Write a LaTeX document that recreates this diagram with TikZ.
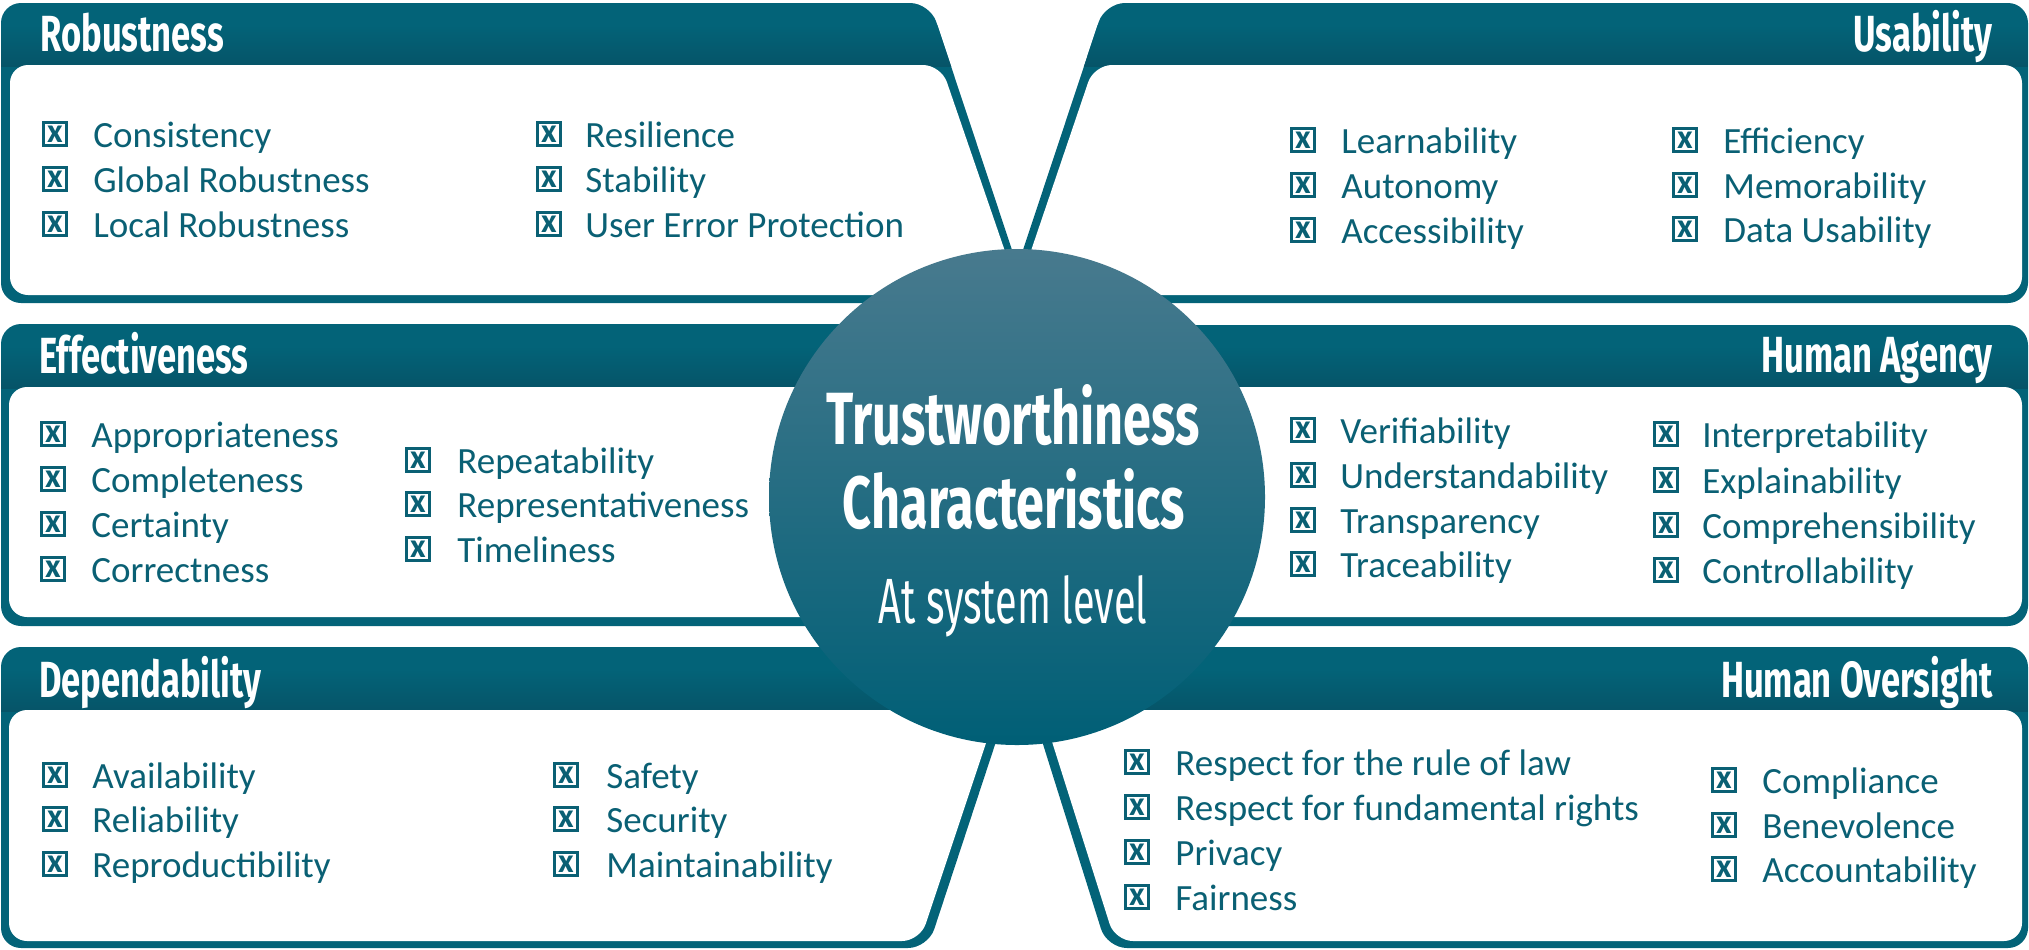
\documentclass[tikz,border=0pt]{standalone}
\usepackage{fontspec}
\setmainfont{Carlito}
\newfontfamily\hdfont[FakeStretch=0.68]{Fira Sans}
\newfontfamily\subfont[FakeStretch=0.62]{Fira Sans}
\newfontfamily\itfont{Carlito}
\definecolor{tealD}{RGB}{3,99,120}
\definecolor{tealDk}{RGB}{6,84,104}
\definecolor{tealT}{RGB}{10,96,116}
\definecolor{cT}{RGB}{72,122,142}
\definecolor{cM}{RGB}{8,103,126}
\definecolor{cB}{RGB}{0,95,118}
\newcommand\itemcol[4]{%
  \foreach \yy/\tx [count=\i] in {#4}{%
    \node[cbx] (#1b\i) at (#2,\yy) {x};
    \node[itm] (#1t\i) at (#3,\yy) {\tx};
  }}
\newcommand\panel[4]{%
  \fill[tealD,rounded corners=10pt] #1;
  \begin{scope}
    \clip[rounded corners=10pt] #1;
    \shade[top color=tealD,bottom color=tealDk] (0,#3) rectangle (2029,#4);
  \end{scope}
  \fill[white,rounded corners=9pt] #2;
}
\begin{document}
\begin{tikzpicture}[x=0.5pt,y=-0.5pt,
  cbx/.style={draw=tealT,line width=1.4pt,minimum width=11.6pt,minimum height=11.6pt,
    inner sep=0pt,anchor=south west,text=tealT,
    font=\itfont\bfseries\fontsize{17}{17}\selectfont},
  itm/.style={anchor=base west,inner sep=0pt,text=tealT,
    font=\itfont\fontsize{18.5}{22}\selectfont},
  hdr/.style={inner sep=0pt,text=white,
    font=\hdfont\bfseries\fontsize{25.4}{30}\selectfont},
  ttl/.style={anchor=base,inner sep=0pt,text=white,
    font=\hdfont\bfseries\fontsize{37}{40}\selectfont},
  sub/.style={anchor=base,inner sep=0pt,text=white,
    font=\subfont\fontsize{32}{36}\selectfont},
  hub/.style={circle,minimum size=248pt,inner sep=0pt,
    top color=cT,middle color=cM,bottom color=cB}
]
\useasboundingbox (0,0) rectangle (2029,949);
\fill[white] (0,0) rectangle (2029,949);

% top-left: Robustness
\panel{(1,3) -- (930,3) -- (1018,268) -- (1018,303) -- (1,303) -- cycle}
      {(10,65) -- (941,65) -- (1020,295) -- (10,295) -- cycle}{25}{66}
% top-right: Usability
\panel{(1105,3) -- (2028,3) -- (2028,303) -- (1017,303) -- (1017,268) -- cycle}
      {(1094,65) -- (2022,65) -- (2022,295) -- (1016,295) -- cycle}{25}{66}
% middle-left: Effectiveness
\panel{(1,324) -- (1020,324) -- (1020,626) -- (1,626) -- cycle}
      {(9,387) -- (1020,387) -- (1020,617) -- (9,617) -- cycle}{346}{388}
% middle-right: Human Agency
\panel{(1014,325) -- (2028,325) -- (2028,626) -- (1014,626) -- cycle}
      {(1014,387) -- (2022,387) -- (2022,617) -- (1014,617) -- cycle}{346}{388}
% bottom-left: Dependability
\panel{(1,647) -- (1020,647) -- (1020,690) -- (1013,690) -- (928,948) -- (1,948) -- cycle}
      {(9,710) -- (997,710) -- (920,941) -- (9,941) -- cycle}{669}{711}
% bottom-right: Human Oversight
\panel{(1000,647) -- (2028,647) -- (2028,948) -- (1107,948) -- (1026,690) -- (1000,690) -- cycle}
      {(1042,710) -- (2022,710) -- (2022,941) -- (1115,941) -- cycle}{669}{711}

% headers
\node[hdr,anchor=base west] (hR) at (40,51) {Robustness};
\node[hdr,anchor=base west] (hE) at (39,373) {Effectiveness};
\node[hdr,anchor=base west] (hD) at (39,697) {Dependability};
\node[hdr,anchor=base east] (hU) at (1993,51) {Usability};
\node[hdr,anchor=base east] (hA) at (1993,372) {Human Agency};
\node[hdr,anchor=base east] (hO) at (1993,697) {Human Oversight};

% items
\itemcol{ra}{42}{93}{147/Consistency,192/Global Robustness,237/Local Robustness}
\itemcol{rb}{536}{585}{147/Resilience,192/Stability,237/User Error Protection}
\itemcol{ua}{1290}{1341}{153/Learnability,198/Autonomy,243/Accessibility}
\itemcol{ub}{1672}{1723}{153/Efficiency,198/Memorability,242/Data Usability}
\itemcol{ea}{40}{91}{447/Appropriateness,492/Completeness,537/Certainty,582/Correctness}
\itemcol{eb}{405}{457}{473/Repeatability,517/Representativeness,562/Timeliness}
\itemcol{ha}{1290}{1340}{443/Verifiability,488/Understandability,533/Transparency,577/Traceability}
\itemcol{hb}{1653}{1702}{447/Interpretability,493/Explainability,538/Comprehensibility,583/Controllability}
\itemcol{da}{42}{92}{788/Availability,832/Reliability,877/Reproductibility}
\itemcol{db}{553}{606}{788/Safety,832/Security,877/Maintainability}
\itemcol{oa}{1124}{1175}{775/Respect for the rule of law,820/Respect for fundamental rights,865/Privacy,910/Fairness}
\itemcol{ob}{1711}{1762}{793/Compliance,838/Benevolence,882/Accountability}

% central circle
\node[hub] (hubc) at (1017,497) {};
\node[ttl] (t1) at (1013,444) {Trustworthiness};
\node[ttl] (t2) at (1014,528) {Characteristics};
\node[sub] (t3) at (1013,623) {At system level};
\end{tikzpicture}
\end{document}
